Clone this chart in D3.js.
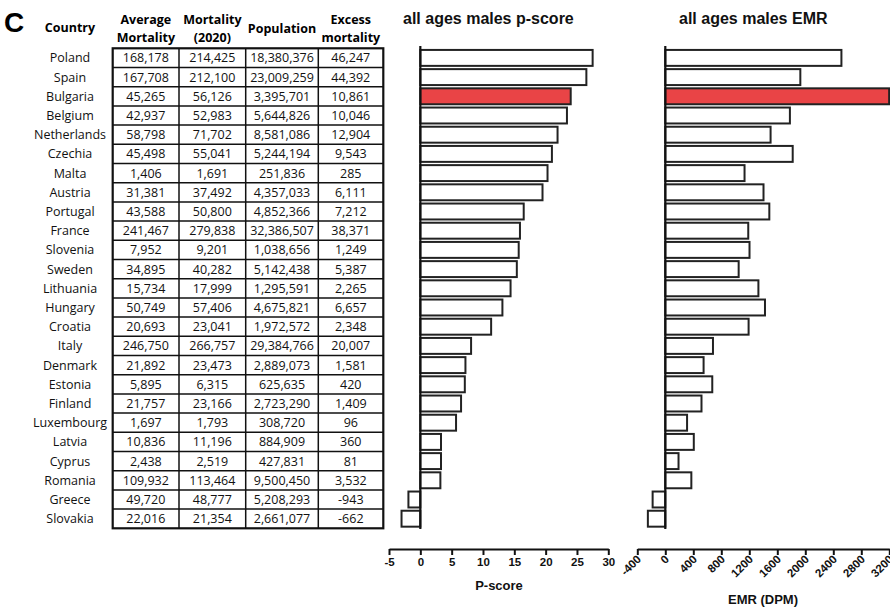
<!DOCTYPE html>
<html>
<head>
<meta charset="utf-8">
<script src="https://cdn.jsdelivr.net/npm/d3@7"></script>
<style>
  html, body { margin: 0; padding: 0; background: #fff; }
  svg { display: block; }
</style>
</head>
<body>
<svg id="chart" width="890" height="607"></svg>
<script>
// ---------- DATA ----------
const countries = ["Poland","Spain","Bulgaria","Belgium","Netherlands","Czechia","Malta","Austria","Portugal","France","Slovenia","Sweden","Lithuania","Hungary","Croatia","Italy","Denmark","Estonia","Finland","Luxembourg","Latvia","Cyprus","Romania","Greece","Slovakia"];
const avgMortality = [168178,167708,45265,42937,58798,45498,1406,31381,43588,241467,7952,34895,15734,50749,20693,246750,21892,5895,21757,1697,10836,2438,109932,49720,22016];
const mortality2020 = [214425,212100,56126,52983,71702,55041,1691,37492,50800,279838,9201,40282,17999,57406,23041,266757,23473,6315,23166,1793,11196,2519,113464,48777,21354];
const population = [18380376,23009259,3395701,5644826,8581086,5244194,251836,4357033,4852366,32386507,1038656,5142438,1295591,4675821,1972572,29384766,2889073,625635,2723290,308720,884909,427831,9500450,5208293,2661077];
const excessMortality = [46247,44392,10861,10046,12904,9543,285,6111,7212,38371,1249,5387,2265,6657,2348,20007,1581,420,1409,96,360,81,3532,-943,-662];
const pScore = [27.5,26.5,24.0,23.4,21.9,21.0,20.3,19.5,16.5,15.9,15.7,15.4,14.4,13.1,11.3,8.1,7.2,7.1,6.5,5.7,3.3,3.3,3.2,-1.9,-3.0];
const emr = [2516,1929,3198,1780,1504,1820,1132,1403,1486,1185,1203,1048,1330,1424,1190,681,547,671,517,311,407,189,372,-181,-249];
const highlightCountry = "Bulgaria";
const tableHeaders = [["Average","Mortality"],["Mortality","(2020)"],["Population"],["Excess","mortality"]];
const pTicks = [-5,0,5,10,15,20,25,30];
const emrTicks = [-400,0,400,800,1200,1600,2000,2400,2800,3200];

// ---------- LAYOUT ----------
const svg = d3.select("#chart");
const tableFont = "'Open Sans', 'Noto Sans', sans-serif";
const chartFont = "'Liberation Sans', Arial, sans-serif";
const fmt = v => d3.format(",")(v).replace("\u2212", "-");
const minus = f => v => f(v).replace("\u2212", "-");

const y = d3.scaleBand().domain(countries).range([48.3, 528.3]);
const yBar = d3.scaleBand().domain(countries).range([48.3, 528.3]).paddingInner(0.17).paddingOuter(0.085);

// Panel letter
svg.append("text").attr("x", 4).attr("y", 32)
  .attr("font-family", chartFont).attr("font-weight", "bold").attr("font-size", 28)
  .text("C");

// ---------- TABLE ----------
const colEdges = [112.7, 179, 245.7, 318.3, 383.3];
const columns = [avgMortality, mortality2020, population, excessMortality];

svg.append("text").attr("x", 70).attr("y", 32).attr("text-anchor", "middle")
  .attr("font-family", tableFont).attr("font-weight", "bold").attr("font-size", 12.5)
  .text("Country");

tableHeaders.forEach((lines, i) => {
  const cx = (colEdges[i] + colEdges[i + 1]) / 2;
  const t = svg.append("text").attr("text-anchor", "middle")
    .attr("font-family", tableFont).attr("font-weight", "bold").attr("font-size", 12.5);
  if (lines.length === 2) {
    t.append("tspan").attr("x", cx).attr("y", 24).text(lines[0]);
    t.append("tspan").attr("x", cx).attr("y", 42).text(lines[1]);
  } else {
    t.append("tspan").attr("x", cx).attr("y", 33).text(lines[0]);
  }
});

// country names
svg.append("g").selectAll("text").data(countries).join("text")
  .attr("x", 70).attr("y", d => y(d) + y.bandwidth() / 2 + 4.4)
  .attr("text-anchor", "middle")
  .attr("font-family", tableFont).attr("font-size", 12.5).attr("fill", "#111")
  .text(d => d);

// cells
columns.forEach((col, ci) => {
  const cx = (colEdges[ci] + colEdges[ci + 1]) / 2;
  svg.append("g").selectAll("text").data(col).join("text")
    .attr("x", cx).attr("y", (d, i) => y(countries[i]) + y.bandwidth() / 2 + 4.4)
    .attr("text-anchor", "middle")
    .attr("font-family", tableFont).attr("font-size", 12.5).attr("fill", "#111")
    .text(d => fmt(d));
});

// grid lines
const grid = svg.append("g").attr("stroke", "#111").attr("fill", "none");
countries.slice(1).forEach(c => {
  grid.append("line").attr("x1", colEdges[0]).attr("x2", colEdges[4])
    .attr("y1", y(c)).attr("y2", y(c)).attr("stroke-width", 1.5);
});
colEdges.slice(1, 4).forEach(x => {
  grid.append("line").attr("x1", x).attr("x2", x)
    .attr("y1", 48.3).attr("y2", 528.3).attr("stroke-width", 1.5);
});
grid.append("rect").attr("x", colEdges[0]).attr("y", 48.3)
  .attr("width", colEdges[4] - colEdges[0]).attr("height", 480)
  .attr("stroke-width", 2.2);

// ---------- BAR PANELS ----------
function panel(values, xDomain, xRange, ticks, title, titleX, axisLabel, labelX, rotate) {
  const x = d3.scaleLinear().domain(xDomain).range(xRange);
  const g = svg.append("g");

  g.append("text").attr("x", titleX).attr("y", 24)
    .attr("font-family", chartFont).attr("font-weight", "bold").attr("font-size", 16)
    .attr("fill", "#111").text(title);

  g.append("g").selectAll("rect").data(values).join("rect")
    .attr("x", d => x(Math.min(0, d)))
    .attr("width", d => Math.abs(x(d) - x(0)))
    .attr("y", (d, i) => yBar(countries[i]))
    .attr("height", yBar.bandwidth())
    .attr("fill", (d, i) => countries[i] === highlightCountry ? "#e94446" : "#fff")
    .attr("stroke", "#222").attr("stroke-width", 2);

  // zero line
  g.append("line").attr("x1", x(0)).attr("x2", x(0))
    .attr("y1", 46).attr("y2", 529)
    .attr("stroke", "#111").attr("stroke-width", 2.2);

  // axis
  const axis = d3.axisBottom(x).tickValues(ticks).tickSize(6).tickSizeOuter(0)
    .tickFormat(minus(d3.format("d")));
  const ag = g.append("g").attr("transform", "translate(0,549)").call(axis);
  ag.select(".domain").attr("stroke", "#111").attr("stroke-width", 2);
  ag.selectAll(".tick line").attr("stroke", "#111").attr("stroke-width", 2);
  ag.selectAll(".tick text").attr("font-family", chartFont).attr("font-weight", "bold")
    .attr("font-size", 11.5).attr("fill", "#111");
  if (rotate) {
    ag.selectAll(".tick text")
      .attr("text-anchor", "end").attr("dy", null).attr("y", 0)
      .attr("transform", "translate(4,11) rotate(-45)");
  } else {
    ag.selectAll(".tick text").attr("y", 9).attr("dy", "0.71em");
  }

  g.append("text").attr("x", labelX).attr("y", rotate ? 604 : 590)
    .attr("text-anchor", "middle")
    .attr("font-family", chartFont).attr("font-weight", "bold").attr("font-size", 13)
    .attr("fill", "#111").text(axisLabel);
}

panel(pScore, [-5, 30], [389, 608.3], pTicks, "all ages males p-score", 403, "P-score", 499, false);
panel(emr, [-400, 3200], [637.3, 889.3], emrTicks, "all ages males EMR", 679, "EMR (DPM)", 763, true);
</script>
</body>
</html>
